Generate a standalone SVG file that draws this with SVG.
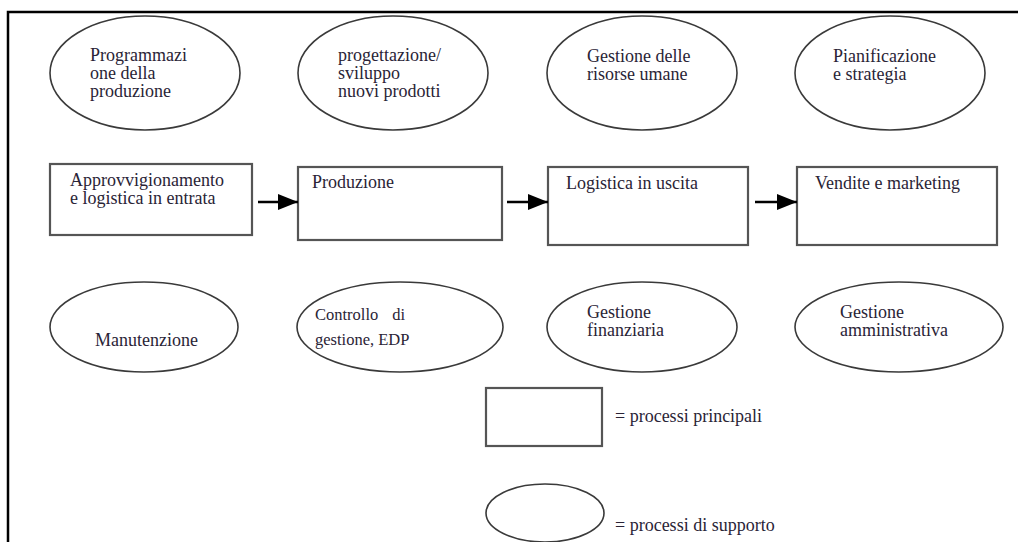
<svg xmlns="http://www.w3.org/2000/svg" width="1018" height="542" viewBox="0 0 1018 542">
  <style>
    .frame { fill: none; stroke: #000; stroke-width: 2.5; }
    .sup { fill: #fff; stroke: #3a3a3a; stroke-width: 1.6; }
    .main { fill: #fff; stroke: #555; stroke-width: 2.2; }
    .conn { stroke: #000; stroke-width: 2.5; fill: none; }
    text { font-family: "Liberation Serif", "Times New Roman", serif; font-size: 18px; fill: #2a2436; }
    .small { font-size: 16.5px; }
  </style>
  <defs>
    <marker id="head" viewBox="0 0 20 16" refX="20" refY="8" markerWidth="20" markerHeight="16" markerUnits="userSpaceOnUse" orient="auto">
      <path d="M0,0 L20,8 L0,16 z" fill="#000"/>
    </marker>
  </defs>

  <rect width="1018" height="542" fill="#fff"/>
  <!-- page frame: top and left rules -->
  <path class="frame" d="M1018,12 L8,12 L8,542"/>

  <!-- support processes, top row -->
  <g id="programmazione">
    <ellipse class="sup" cx="145" cy="73" rx="95" ry="57"/>
    <text x="90" y="61">Programmazi</text>
    <text x="90" y="79">one della</text>
    <text x="90" y="97">produzione</text>
  </g>
  <g id="progettazione">
    <ellipse class="sup" cx="393" cy="73" rx="95" ry="57"/>
    <text x="338" y="61">progettazione/</text>
    <text x="338" y="79">sviluppo</text>
    <text x="338" y="97">nuovi prodotti</text>
  </g>
  <g id="risorse-umane">
    <ellipse class="sup" cx="642" cy="73" rx="95" ry="57"/>
    <text x="587" y="62">Gestione delle</text>
    <text x="587" y="80">risorse umane</text>
  </g>
  <g id="pianificazione">
    <ellipse class="sup" cx="890" cy="73" rx="95" ry="57"/>
    <text x="833" y="62">Pianificazione</text>
    <text x="833" y="80">e strategia</text>
  </g>

  <!-- primary processes -->
  <g id="approvvigionamento">
    <rect class="main" x="50" y="164" width="202" height="71"/>
    <text x="70" y="186">Approvvigionamento</text>
    <text x="70" y="204">e logistica in entrata</text>
  </g>
  <g id="produzione">
    <rect class="main" x="298" y="167" width="204" height="73"/>
    <text x="312" y="188">Produzione</text>
  </g>
  <g id="logistica-uscita">
    <rect class="main" x="548" y="167" width="200" height="78"/>
    <text x="566" y="189">Logistica in uscita</text>
  </g>
  <g id="vendite">
    <rect class="main" x="797" y="167" width="200" height="78"/>
    <text x="815" y="189">Vendite e marketing</text>
  </g>

  <!-- flow between primary processes -->
  <g id="connectors">
    <line class="conn" x1="258" y1="202" x2="298" y2="202" marker-end="url(#head)"/>
    <line class="conn" x1="507" y1="202" x2="548" y2="202" marker-end="url(#head)"/>
    <line class="conn" x1="755" y1="202" x2="797" y2="202" marker-end="url(#head)"/>
  </g>

  <!-- support processes, bottom row -->
  <g id="manutenzione">
    <ellipse class="sup" cx="144" cy="327" rx="94" ry="45"/>
    <text x="95" y="346">Manutenzione</text>
  </g>
  <g id="controllo">
    <ellipse class="sup" cx="400" cy="327" rx="103" ry="45"/>
    <text class="small" x="315" y="320">Controllo</text>
    <text class="small" x="405" y="320" text-anchor="end">di</text>
    <text class="small" x="315" y="345">gestione, EDP</text>
  </g>
  <g id="finanziaria">
    <ellipse class="sup" cx="642" cy="327" rx="95" ry="45"/>
    <text x="587" y="318">Gestione</text>
    <text x="587" y="336">finanziaria</text>
  </g>
  <g id="amministrativa">
    <ellipse class="sup" cx="899" cy="327" rx="104" ry="45"/>
    <text x="840" y="318">Gestione</text>
    <text x="840" y="336">amministrativa</text>
  </g>

  <!-- key -->
  <g id="legend-main">
    <rect class="main" x="486" y="388" width="116" height="58"/>
    <text x="615" y="422">= processi principali</text>
  </g>
  <g id="legend-support">
    <ellipse class="sup" cx="545" cy="513" rx="59" ry="29"/>
    <text x="615" y="531">= processi di supporto</text>
  </g>
</svg>
